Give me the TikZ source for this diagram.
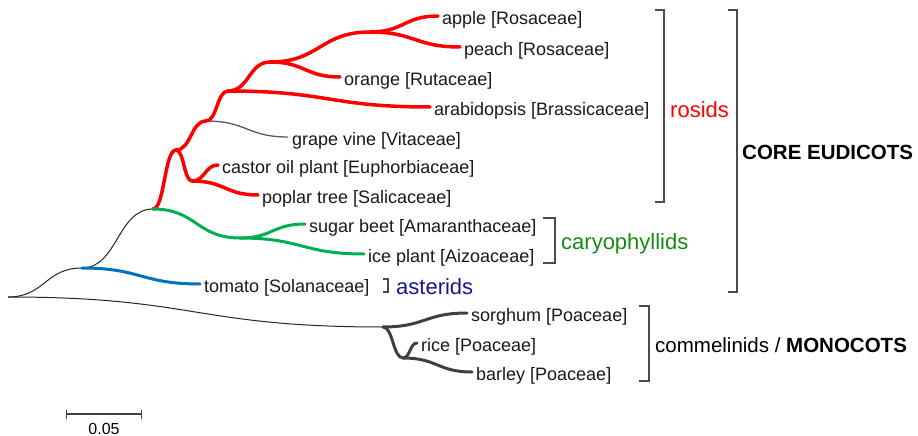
\documentclass[tikz,border=0pt]{standalone}
\usepackage{fontspec}
\setmainfont{Liberation Sans}
\usetikzlibrary{calc,arrows.meta}
\definecolor{rosidred}{RGB}{255,0,0}
\definecolor{caryogreen}{RGB}{0,176,80}
\definecolor{caryotext}{RGB}{20,140,20}
\definecolor{asterblue}{RGB}{0,112,192}
\definecolor{astertext}{RGB}{25,25,140}
\definecolor{monogray}{RGB}{64,64,64}
\begin{document}
\begin{tikzpicture}[x=1pt, y=-1pt,
	twig/.style={to path={let \p1=(\tikztostart), \p2=(\tikztotarget) in
		.. controls ({(\x1+\x2)/2},\y1) and ({(\x1+\x2)/2},\y2) .. (\tikztotarget)}},
	stem/.style={twig, line width=1pt, draw=black!85},
	rosid/.style={twig, line width=3.5pt, draw=rosidred, line cap=round},
	caryo/.style={twig, line width=3pt, draw=caryogreen, line cap=round},
	aster/.style={twig, line width=3pt, draw=asterblue, line cap=round},
	mono/.style={twig, line width=3pt, draw=monogray, line cap=round},
	leaf/.style={anchor=west, inner sep=4pt, text height=17pt, text depth=0pt,
		font=\fontsize{18}{20}\selectfont, text=black!90},
	clade/.style={anchor=base west, inner sep=0pt, font=\fontsize{22}{24}\selectfont},
	group/.style={anchor=base west, inner sep=0pt, font=\fontsize{20.5}{23}\selectfont},
	brk/.style={draw=black!70, line width=1.3pt}]
	\useasboundingbox (0,0) rectangle (918,436);
	
	% Inner nodes of the tree
	\coordinate (R0) at (8,297);
	\coordinate (N1) at (82,268);
	\coordinate (N2) at (153,209);
	\coordinate (N3) at (176,150);
	\coordinate (N4) at (192,181);
	\coordinate (N5) at (206,121);
	\coordinate (N6) at (228,91);
	\coordinate (N7) at (270,62);
	\coordinate (N8) at (370,32);
	\coordinate (C1) at (240,238);
	\coordinate (M1) at (383,327);
	\coordinate (M2) at (403,358);
	
	% Leaves
	\node[leaf] (apple) at (438,16) {apple [Rosaceae]};
	\node[leaf] (peach) at (460,47) {peach [Rosaceae]};
	\node[leaf] (orange) at (340,77) {orange [Rutaceae]};
	\node[leaf] (arab) at (430,107) {arabidopsis [Brassicaceae]};
	\node[leaf] (grape) at (288,137) {grape vine [Vitaceae]};
	\node[leaf] (castor) at (218,165) {castor oil plant [Euphorbiaceae]};
	\node[leaf] (poplar) at (258,195) {poplar tree [Salicaceae]};
	\node[leaf] (beet) at (305,224) {sugar beet [Amaranthaceae]};
	\node[leaf] (ice) at (364,254) {ice plant [Aizoaceae]};
	\node[leaf] (tomato) at (200,284) {tomato [Solanaceae]};
	\node[leaf] (sorghum) at (467,313) {sorghum [Poaceae]};
	\node[leaf] (rice) at (417,343) {rice [Poaceae]};
	\node[leaf] (barley) at (472,372) {barley [Poaceae]};
	
	% Thin branches
	\draw[stem] (R0) to (N1);
	\draw[stem] (R0) to (M1);
	\draw[stem] (N1) to (N2);
	\draw[stem, draw=black!65, line width=1.3pt] (N5) to (grape.west);
	
	% Rosids
	\draw[rosid] (N2) to (N3);
	\draw[rosid] (N3) to (N4);
	\draw[rosid] (N4) to (castor.west);
	\draw[rosid] (N4) to (poplar.west);
	\draw[rosid] (N3) to (N5);
	\draw[rosid] (N5) to (N6);
	\draw[rosid] (N6) to (arab.west);
	\draw[rosid] (N6) to (N7);
	\draw[rosid] (N7) to (orange.west);
	\draw[rosid] (N7) to (N8);
	\draw[rosid] (N8) to (apple.west);
	\draw[rosid] (N8) to (peach.west);
	
	% Caryophyllids and asterids
	\draw[caryo] (N2) to (C1);
	\draw[caryo] (C1) to (beet.west);
	\draw[caryo] (C1) to (ice.west);
	\draw[aster] (N1) to (tomato.west);
	
	% Monocots
	\draw[mono] (M1) to (sorghum.west);
	\draw[mono] (M1) to (M2);
	\draw[mono] (M2) to (rice.west);
	\draw[mono] (M2) to (barley.west);
	
	% Brackets and group names
	\draw[brk] (655,10) -| (664,202) -- (655,202);
	\node[clade, text=rosidred] (rosids) at (670,117) {rosids};
	\draw[brk] (543,218) -| (555,263) -- (543,263);
	\node[clade, text=caryotext] (caryoph) at (561,249) {caryophyllids};
	\draw[brk] (383,279) -| (388,292) -- (383,292);
	\node[clade, text=astertext] (asterids) at (396,294) {asterids};
	\draw[brk] (728,10) -| (737,292) -- (728,292);
	\node[group] (core) at (742,159) {\bfseries CORE EUDICOTS};
	\draw[brk] (639,306) -| (649,381) -- (639,381);
	\node[group] (monocots) at (655,352) {commelinids / \bfseries MONOCOTS};
	
	% Scale bar
	\coordinate (sbL) at (66,414);
	\coordinate (sbR) at (142,414);
	\draw[{Bar[width=9pt]}-{Bar[width=9pt]}, line width=1.3pt, black!75] (sbL) -- (sbR);
	\node[anchor=base, inner sep=0pt, font=\fontsize{16}{18}\selectfont] (scale) at (104,434) {0.05};
\end{tikzpicture}
\end{document}
